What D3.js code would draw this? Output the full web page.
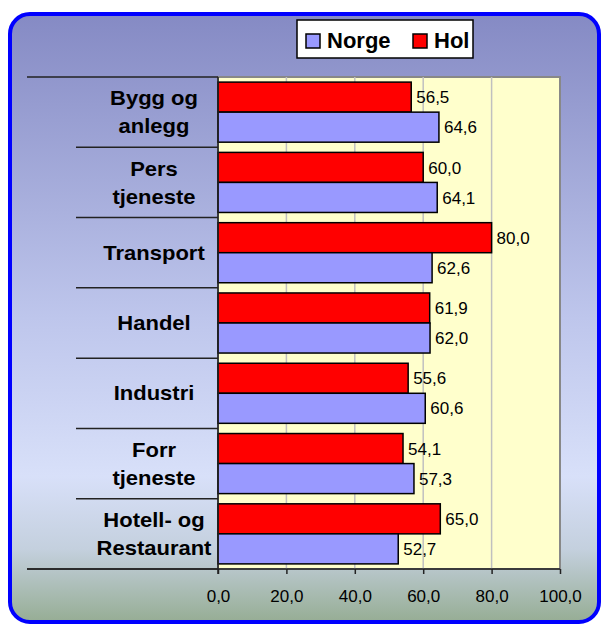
<!DOCTYPE html>
<html>
<head>
<meta charset="utf-8">
<script src="https://cdn.jsdelivr.net/npm/d3@7"></script>
<style>
  body { margin: 0; background: #fff; }
  text { font-family: "Liberation Sans", Arial, sans-serif; }
</style>
</head>
<body>
<svg></svg>
<script>
const width = 603,
  height = 626,
  plotLeft = 218,
  plotRight = 560,
  plotTop = 77,
  plotBottom = 569,
  holColor = '#ff0000',
  norgeColor = '#9999ff',
  plotFill = '#ffffcc'

// data
const categories = ['Bygg og anlegg', 'Pers tjeneste', 'Transport', 'Handel', 'Industri', 'Forr tjeneste', 'Hotell- og Restaurant']
const categoryLines = [['Bygg og', 'anlegg'], ['Pers', 'tjeneste'], ['Transport'], ['Handel'], ['Industri'], ['Forr', 'tjeneste'], ['Hotell- og', 'Restaurant']]
const holValues = [56.5, 60.0, 80.0, 61.9, 55.6, 54.1, 65.0]
const norgeValues = [64.6, 64.1, 62.6, 62.0, 60.6, 57.3, 52.7]
const seriesNames = ['Hol', 'Norge']
const xTicks = [0, 20, 40, 60, 80, 100]

const fmt = v => d3.format('.1f')(v).replace('.', ',')

const svg = d3.select('svg')
  .attr('width', width)
  .attr('height', height)

const defs = svg.append('defs')
const grad = defs.append('linearGradient')
  .attr('id', 'bg')
  .attr('x1', 0).attr('y1', 0).attr('x2', 0).attr('y2', 1)
grad.selectAll('stop')
  .data([[0, '#858ac4'], [0.5, '#bec6ec'], [0.76, '#d8e0f9'], [0.88, '#c4d0de'], [1, '#96ad94']])
  .enter().append('stop')
  .attr('offset', d => d[0])
  .attr('stop-color', d => d[1])

// frame
svg.append('rect')
  .attr('x', 10).attr('y', 14)
  .attr('width', 589).attr('height', 608)
  .attr('rx', 20).attr('ry', 20)
  .attr('fill', 'url(#bg)')
  .attr('stroke', '#0000ff')
  .attr('stroke-width', 4)

const x = d3.scaleLinear().domain([0, 100]).range([plotLeft, plotRight])
const y = d3.scaleBand().domain(categories).range([plotTop, plotBottom])
const ySeries = d3.scaleBand().domain(seriesNames).range([0, y.bandwidth()]).paddingOuter(0.17)

// plot area
svg.append('rect')
  .attr('x', plotLeft).attr('y', plotTop)
  .attr('width', plotRight - plotLeft).attr('height', plotBottom - plotTop)
  .attr('fill', plotFill)
  .attr('stroke', '#888')
  .attr('stroke-width', 2)

svg.append('g')
  .selectAll('line')
  .data(xTicks.slice(1, -1))
  .enter().append('line')
  .attr('x1', d => x(d)).attr('x2', d => x(d))
  .attr('y1', plotTop).attr('y2', plotBottom)
  .attr('stroke', '#c0c0c0')
  .attr('stroke-width', 1.5)

// bars
const rows = categories.map((c, i) => ({cat: c, Hol: holValues[i], Norge: norgeValues[i]}))
const groups = svg.append('g').selectAll('g')
  .data(rows)
  .enter().append('g')
  .attr('transform', d => `translate(0,${y(d.cat)})`)

groups.selectAll('rect')
  .data(d => seriesNames.map(s => ({s, v: d[s]})))
  .enter().append('rect')
  .attr('x', x(0))
  .attr('y', d => ySeries(d.s))
  .attr('width', d => x(d.v) - x(0))
  .attr('height', ySeries.bandwidth())
  .attr('fill', d => d.s === 'Hol' ? holColor : norgeColor)
  .attr('stroke', '#000')
  .attr('stroke-width', 1.5)

groups.selectAll('text')
  .data(d => seriesNames.map(s => ({s, v: d[s]})))
  .enter().append('text')
  .attr('x', d => x(d.v) + 5)
  .attr('y', d => ySeries(d.s) + ySeries.bandwidth() / 2)
  .attr('dy', '0.36em')
  .attr('font-size', 17)
  .attr('fill', '#000')
  .text(d => fmt(d.v))

// category axis, drawn like a table
const bounds = categories.map(c => y(c)).concat([plotBottom])
svg.append('g')
  .selectAll('line')
  .data(bounds)
  .enter().append('line')
  .attr('x1', (d, i) => i === 0 || i === bounds.length - 1 ? 27 : 76)
  .attr('x2', plotLeft)
  .attr('y1', d => d).attr('y2', d => d)
  .attr('stroke', '#222')
  .attr('stroke-width', 1.5)

svg.append('line')
  .attr('x1', plotLeft).attr('x2', plotLeft)
  .attr('y1', plotTop).attr('y2', plotBottom + 5)
  .attr('stroke', '#222')
  .attr('stroke-width', 1.5)

const labels = svg.append('g').selectAll('text')
  .data(categories.map((c, i) => ({cat: c, lines: categoryLines[i]})))
  .enter().append('text')
  .attr('font-size', 20)
  .attr('font-weight', 'bold')
  .attr('text-anchor', 'middle')
  .attr('fill', '#000')
  .attr('transform', d => `translate(154,${y(d.cat) + y.bandwidth() / 2}) scale(1.1,1)`)

labels.selectAll('tspan')
  .data(d => d.lines.map((l, i) => ({l, off: (i - (d.lines.length - 1) / 2) * 28})))
  .enter().append('tspan')
  .attr('x', 0)
  .attr('y', d => d.off)
  .attr('dy', '0.36em')
  .text(d => d.l)

// value axis
const xAxis = d3.axisBottom(x).tickValues(xTicks).tickSize(5).tickFormat(fmt)
const axisG = svg.append('g')
  .attr('transform', `translate(0,${plotBottom})`)
  .call(xAxis)
axisG.select('.domain').remove()
axisG.append('line')
  .attr('x1', 27).attr('x2', plotRight)
  .attr('stroke', '#222')
  .attr('stroke-width', 1.5)
axisG.selectAll('.tick line').attr('stroke', '#222').attr('stroke-width', 1.5)
axisG.selectAll('.tick text')
  .attr('font-size', 17)
  .attr('font-family', '"Liberation Sans", Arial, sans-serif')
  .attr('fill', '#000')
  .attr('y', 21)
  .attr('dy', '0.71em')

// legend
const legend = svg.append('g').attr('transform', 'translate(297,20)')
legend.append('rect')
  .attr('width', 176).attr('height', 38)
  .attr('fill', '#fff')
  .attr('stroke', '#000')
  .attr('stroke-width', 1.5)
const legendItems = [{name: 'Norge', color: norgeColor, x: 9}, {name: 'Hol', color: holColor, x: 116}]
const li = legend.selectAll('.item')
  .data(legendItems)
  .enter().append('g')
  .attr('class', 'item')
  .attr('transform', d => `translate(${d.x},0)`)
li.append('rect')
  .attr('y', 14).attr('width', 14).attr('height', 14)
  .attr('fill', d => d.color)
  .attr('stroke', '#000')
  .attr('stroke-width', 1.5)
li.append('text')
  .attr('x', 21).attr('y', 28)
  .attr('font-size', 22)
  .attr('font-weight', 'bold')
  .attr('fill', '#000')
  .text(d => d.name)
</script>
</body>
</html>
